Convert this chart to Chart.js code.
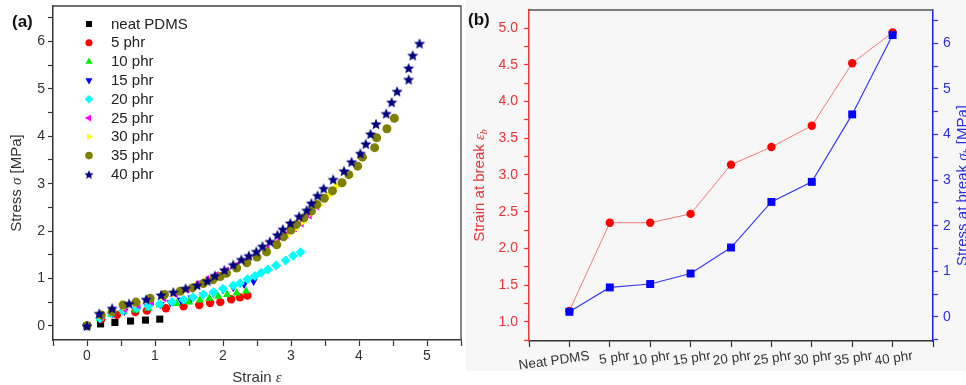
<!DOCTYPE html>
<html><head><meta charset="utf-8">
<script src="https://cdn.jsdelivr.net/npm/chart.js@4.4.1/dist/chart.umd.min.js"></script>
<style>
html,body{margin:0;padding:0;background:#fff;width:966px;height:385px;overflow:hidden;}
#bgb{position:absolute;left:466px;top:0;width:500px;height:371px;background:#f7f7f7;}
#wa{position:absolute;left:0;top:0;width:480px;height:385px;}
#wb{position:absolute;left:460px;top:0;width:506px;height:385px;}
canvas{display:block;}
</style></head><body>
<div id="bgb"></div>
<div id="wa"><canvas id="ca" width="480" height="385"></canvas></div>
<div id="wb"><canvas id="cb" width="506" height="385"></canvas></div>
<script>
// ---------- Panel (a) data: stress-strain curves ----------
const seriesLabels = ['neat PDMS','5 phr','10 phr','15 phr','20 phr','25 phr','30 phr','35 phr','40 phr'];
const strainNeat = [0,0.2,0.41,0.64,0.86,1.07];
const stressNeat = [0,0.04,0.07,0.10,0.12,0.14];
const strain5 = [0,0.21,0.44,0.71,0.88,1.16,1.42,1.65,1.81,1.96,2.12,2.25,2.36];
const stress5 = [0,0.14,0.23,0.29,0.32,0.37,0.41,0.44,0.48,0.50,0.56,0.60,0.64];
const strain10 = [0,0.19,0.36,0.53,0.71,0.90,1.07,1.32,1.50,1.66,1.80,1.93,2.06,2.20,2.34];
const stress10 = [0,0.15,0.24,0.30,0.33,0.37,0.44,0.47,0.50,0.54,0.58,0.62,0.66,0.69,0.73];
const strain15 = [0,0.2,0.37,0.55,0.73,0.9,1.08,1.23,1.38,1.54,1.71,1.86,2.0,2.15,2.31,2.45];
const stress15 = [0,0.17,0.25,0.31,0.36,0.41,0.45,0.49,0.54,0.59,0.65,0.69,0.76,0.81,0.88,0.94];
const strain20 = [0,0.19,0.36,0.53,0.73,0.90,1.07,1.25,1.42,1.56,1.71,1.86,2.00,2.15,2.25,2.36,2.47,2.56,2.66,2.78,2.92,3.03,3.14];
const stress20 = [0,0.16,0.27,0.32,0.37,0.42,0.46,0.50,0.55,0.60,0.66,0.71,0.78,0.85,0.90,0.98,1.05,1.12,1.19,1.27,1.38,1.48,1.55];
const strain25 = [0,0.2,0.37,0.55,0.75,0.95,1.13,1.3,1.47,1.62,1.76,1.9,2.05,2.2,2.35,2.5,2.65,2.8,2.93,3.05,3.15,3.27,3.38];
const stress25 = [0,0.2,0.28,0.36,0.43,0.5,0.58,0.67,0.77,0.88,0.98,1.07,1.17,1.28,1.39,1.5,1.62,1.77,1.93,2.06,2.16,2.33,2.52];
const strain30 = [0,0.2,0.37,0.55,0.73,0.92,1.1,1.28,1.45,1.6,1.75,1.9,2.05,2.2,2.35,2.5,2.65,2.8,2.93,3.05,3.18,3.3,3.42,3.55,3.67];
const stress30 = [0,0.22,0.3,0.4,0.47,0.54,0.61,0.69,0.77,0.85,0.94,1.03,1.12,1.23,1.34,1.46,1.59,1.74,1.9,2.04,2.2,2.38,2.55,2.75,2.95];
const strain35 = [0,0.21,0.37,0.53,0.72,0.93,1.14,1.37,1.55,1.71,1.85,1.96,2.05,2.20,2.35,2.50,2.64,2.79,2.89,3.00,3.08,3.19,3.30,3.38,3.49,3.61,3.75,3.85,3.98,4.05,4.23,4.26,4.41,4.52];
const stress35 = [0,0.23,0.30,0.44,0.50,0.58,0.66,0.73,0.80,0.89,0.97,1.04,1.11,1.22,1.33,1.45,1.56,1.71,1.88,2.02,2.14,2.28,2.42,2.56,2.69,2.85,3.02,3.19,3.37,3.56,3.76,3.97,4.16,4.38];
const strain40 = [0,0.18,0.37,0.62,0.87,1.09,1.27,1.45,1.62,1.77,1.88,2.02,2.15,2.27,2.38,2.49,2.58,2.69,2.80,2.88,2.99,3.12,3.23,3.30,3.39,3.48,3.62,3.78,3.89,4.02,4.10,4.17,4.25,4.40,4.48,4.56,4.73,4.73,4.79,4.89];
const stress40 = [0,0.26,0.37,0.47,0.56,0.65,0.71,0.79,0.86,0.95,1.06,1.18,1.29,1.40,1.48,1.57,1.68,1.78,1.92,2.04,2.17,2.31,2.44,2.59,2.75,2.90,3.09,3.27,3.46,3.64,3.84,4.05,4.26,4.48,4.72,4.95,5.20,5.44,5.71,5.96];
const xTicksA = [0,1,2,3,4,5];
const yTicksA = [0,1,2,3,4,5,6];

// ---------- Panel (b) data: properties at break ----------
const compounds = ['Neat PDMS','5 phr','10 phr','15 phr','20 phr','25 phr','30 phr','35 phr','40 phr'];
const strainAtBreak = [1.15,2.35,2.35,2.47,3.14,3.38,3.67,4.52,4.94];
const stressAtBreak = [0.11,0.645,0.72,0.95,1.52,2.52,2.96,4.44,6.18];

// ---------- helpers ----------
const FONT = "'Liberation Sans', Arial, sans-serif";
const SERIF = "'Liberation Serif', 'DejaVu Serif', serif";
const onGrid = (v, step) => Math.abs(v/step - Math.round(v/step)) < 1e-6;
const labelFrom = (list, v) => { const r = Math.round(v); return (Math.abs(v - r) < 1e-6 && list.includes(r)) ? String(r) : ''; };
// tick builder: every multiple of `step` inside the axis range
const stepTicks = step => s => {
  const out = [];
  for (let k = Math.ceil(s.min/step - 1e-9); k*step <= s.max + 1e-9; k++) out.push({value: Math.round(k*step*1e6)/1e6});
  s.ticks = out;
};

function starCanvas(color, r) {
  const s = Math.ceil(r*2 + 2);
  const c = document.createElement('canvas'); c.width = s; c.height = s;
  const g = c.getContext('2d'); g.fillStyle = color; g.beginPath();
  for (let i = 0; i < 10; i++) {
    const a = -Math.PI/2 + i*Math.PI/5, rr = (i % 2) ? r*0.45 : r;
    g.lineTo(s/2 + rr*Math.cos(a), s/2 + 0.6 + rr*Math.sin(a));
  }
  g.closePath(); g.fill();
  return c;
}
function richText(ctx, parts, cx, cy, angle, color) {
  ctx.save(); ctx.translate(cx, cy); ctx.rotate(angle);
  ctx.fillStyle = color; ctx.textBaseline = 'middle'; ctx.textAlign = 'left';
  let w = 0;
  parts.forEach(p => { ctx.font = p.f; p.w = ctx.measureText(p.t).width; w += p.w; });
  let x = -w/2;
  parts.forEach(p => { ctx.font = p.f; ctx.fillText(p.t, x, p.dy || 0); x += p.w; });
  ctx.restore();
}

const starImg = starCanvas('#000080', 5.8);
const starLegend = starCanvas('#000080', 4.8);
const seriesStrain = [strainNeat,strain5,strain10,strain15,strain20,strain25,strain30,strain35,strain40];
const seriesStress = [stressNeat,stress5,stress10,stress15,stress20,stress25,stress30,stress35,stress40];
const styleA = [
  {c:'#000000', s:'rect', rot:0, r:5},
  {c:'#ff0000', s:'circle', rot:0, r:4.2},
  {c:'#00ee00', s:'triangle', rot:0, r:4.8},
  {c:'#0000ff', s:'triangle', rot:180, r:4.8},
  {c:'#00ffff', s:'rectRot', rot:0, r:5},
  {c:'#ff00ff', s:'triangle', rot:270, r:4.8},
  {c:'#ffff00', s:'triangle', rot:90, r:4.8},
  {c:'#808000', s:'circle', rot:0, r:4.5},
  {c:'#000080', s:starImg, rot:0, r:6}
];

const datasetsA = seriesLabels.map((lab, i) => ({
  label: lab,
  data: seriesStrain[i].map((x, j) => ({x, y: seriesStress[i][j]})),
  showLine: false,
  pointStyle: styleA[i].s,
  pointRotation: styleA[i].rot,
  pointRadius: styleA[i].r,
  pointBackgroundColor: styleA[i].c,
  pointBorderColor: styleA[i].c,
  pointBorderWidth: 0,
  order: 20 - i
}));

const decorA = {
  id: 'decorA',
  afterDraw(chart) {
    const ctx = chart.ctx, a = chart.chartArea;
    ctx.save();
    ctx.strokeStyle = '#444'; ctx.lineWidth = 1.3;
    ctx.beginPath(); ctx.moveTo(a.left, a.top); ctx.lineTo(a.right, a.top); ctx.lineTo(a.right, a.bottom); ctx.stroke();
    // legend
    const H = Chart.helpers;
    chart.data.datasets.forEach((ds, i) => {
      const y = a.top + 18 + i*18.8, x = a.left + 36;
      ctx.fillStyle = ds.pointBackgroundColor; ctx.strokeStyle = ds.pointBorderColor;
      const st = (ds.pointStyle === starImg) ? starLegend : ds.pointStyle;
      H.drawPoint(ctx, {pointStyle: st, rotation: ds.pointRotation, radius: ds.pointRadius * 0.85, borderWidth: 0}, x, y);
      ctx.fillStyle = '#222'; ctx.font = '15px ' + FONT; ctx.textBaseline = 'middle'; ctx.textAlign = 'left';
      ctx.fillText(ds.label, a.left + 58, y + 0.5);
    });
    ctx.fillStyle = '#111'; ctx.font = 'bold 17px ' + FONT; ctx.textBaseline = 'middle'; ctx.textAlign = 'left';
    ctx.fillText('(a)', 12, 22);
    ctx.restore();
    richText(ctx, [{t:'Stress ', f:'15px '+FONT}, {t:'σ', f:'italic 15px '+SERIF}, {t:' [MPa]', f:'15px '+FONT}],
      a.left - 36, (a.top + a.bottom)/2 + 10, -Math.PI/2, '#333');
    richText(ctx, [{t:'Strain ', f:'15px '+FONT}, {t:'ε', f:'italic 15px '+SERIF}],
      (a.left + a.right)/2, a.bottom + 38, 0, '#333');
  }
};

new Chart(document.getElementById('ca'), {
  type: 'scatter',
  data: {datasets: datasetsA},
  options: {
    responsive: false, animation: false, events: [],
    layout: {padding: {left: 0, right: 19, top: 6, bottom: 0}},
    plugins: {legend: {display: false}, tooltip: {enabled: false}},
    scales: {
      x: {
        type: 'linear', min: -0.5, max: 5.5,
        afterBuildTicks: stepTicks(0.5),
        ticks: {stepSize: 0.5, autoSkip: false, maxRotation: 0, padding: 2, color: '#333', font: {size: 14, family: FONT},
          callback: v => labelFrom(xTicksA, v)},
        grid: {drawOnChartArea: false, tickLength: 6, tickColor: '#333', tickWidth: 1.2},
        border: {color: '#333', width: 1.5},
        afterFit: s => { s.height = 45; s.paddingLeft = 0; s.paddingRight = 0; }
      },
      y: {
        type: 'linear', min: -0.3, max: 6.75,
        afterBuildTicks: stepTicks(0.5),
        ticks: {stepSize: 0.5, autoSkip: false, padding: 3, color: '#333', font: {size: 14, family: FONT},
          callback: v => labelFrom(yTicksA, v)},
        grid: {drawOnChartArea: false, tickLength: 5, tickColor: '#333', tickWidth: 1.2},
        border: {color: '#333', width: 1.5},
        afterFit: s => { s.width = 53; s.paddingTop = 0; s.paddingBottom = 0; }
      }
    }
  },
  plugins: [decorA]
});

// ---------- Panel (b) ----------
const RED = '#e8333a', BLUE = '#2f2fd8';
const decorB = {
  id: 'decorB',
  afterDraw(chart) {
    const ctx = chart.ctx, a = chart.chartArea;
    ctx.save();
    ctx.strokeStyle = '#555'; ctx.lineWidth = 1.3;
    ctx.beginPath(); ctx.moveTo(a.left, a.top); ctx.lineTo(a.right, a.top); ctx.stroke();
    ctx.fillStyle = '#111'; ctx.font = 'bold 17px ' + FONT; ctx.textBaseline = 'middle'; ctx.textAlign = 'left';
    ctx.fillText('(b)', 8, 20);
    ctx.restore();
    const cy = (a.top + a.bottom)/2 + 10;
    richText(ctx, [{t:'Strain at break ', f:'15px '+FONT}, {t:'ε', f:'italic 15px '+SERIF}, {t:'b', f:'italic 10px '+SERIF, dy:4}],
      a.left - 49, cy, -Math.PI/2, RED);
    richText(ctx, [{t:'Stress at break ', f:'15px '+FONT}, {t:'σ', f:'italic 15px '+SERIF}, {t:'b', f:'italic 10px '+SERIF, dy:4}, {t:' [MPa]', f:'15px '+FONT}],
      a.right + 30, cy, -Math.PI/2, BLUE);
  }
};

new Chart(document.getElementById('cb'), {
  type: 'line',
  data: {
    datasets: [
      {label: 'Stress at break', yAxisID: 'y2',
        data: stressAtBreak.map((v, i) => ({x: i, y: v})),
        borderColor: '#3a3af0', borderWidth: 1.2, pointStyle: 'rect', pointRadius: 5.6,
        pointBackgroundColor: '#0000ff', pointBorderColor: '#0000ff', pointBorderWidth: 0, order: 1},
      {label: 'Strain at break', yAxisID: 'y',
        data: strainAtBreak.map((v, i) => ({x: i, y: v})),
        borderColor: '#f07a7a', borderWidth: 1, pointStyle: 'circle', pointRadius: 4.2,
        pointBackgroundColor: '#ff0000', pointBorderColor: '#ff0000', pointBorderWidth: 0, order: 2}
    ]
  },
  options: {
    responsive: false, animation: false, events: [],
    layout: {padding: {left: 20, right: 0, top: 10, bottom: 0}},
    plugins: {legend: {display: false}, tooltip: {enabled: false}},
    scales: {
      x: {
        type: 'linear', min: -1, max: 9,
        afterBuildTicks: stepTicks(1),
        ticks: {stepSize: 1, autoSkip: false, minRotation: 8, maxRotation: 8, labelOffset: 20, padding: 1,
          color: '#333', font: {size: 13.5, family: FONT},
          callback: v => { const r = Math.round(v); return (r >= 0 && r < compounds.length) ? compounds[r] : ''; }},
        grid: {drawOnChartArea: false, tickLength: 6, tickColor: '#333', tickWidth: 1.2},
        border: {color: '#333', width: 1.5},
        afterFit: s => { s.height = 44; s.paddingLeft = 0; s.paddingRight = 0; }
      },
      y: {
        type: 'linear', position: 'left', min: 0.74, max: 5.245,
        afterBuildTicks: stepTicks(0.25),
        ticks: {stepSize: 0.25, autoSkip: false, padding: 6, color: RED, font: {size: 14, family: FONT},
          callback: v => onGrid(v, 0.5) ? v.toFixed(1) : ''},
        grid: {drawOnChartArea: false, tickLength: 5, tickColor: RED, tickWidth: 1.2},
        border: {color: '#f03a3a', width: 1.5},
        afterFit: s => { s.width = 49; s.paddingTop = 0; s.paddingBottom = 0; }
      },
      y2: {
        type: 'linear', position: 'right', min: -0.53, max: 6.73,
        afterBuildTicks: stepTicks(0.5),
        ticks: {stepSize: 0.5, autoSkip: false, padding: 5, color: BLUE, font: {size: 14, family: FONT},
          callback: v => { const r = Math.round(v); return Math.abs(v - r) < 1e-6 ? String(r) : ''; }},
        grid: {drawOnChartArea: false, tickLength: 5, tickColor: BLUE, tickWidth: 1.2},
        border: {color: '#2020e8', width: 1.5},
        afterFit: s => { s.width = 33; s.paddingTop = 0; s.paddingBottom = 0; }
      }
    }
  },
  plugins: [decorB]
});
</script>
</body></html>
